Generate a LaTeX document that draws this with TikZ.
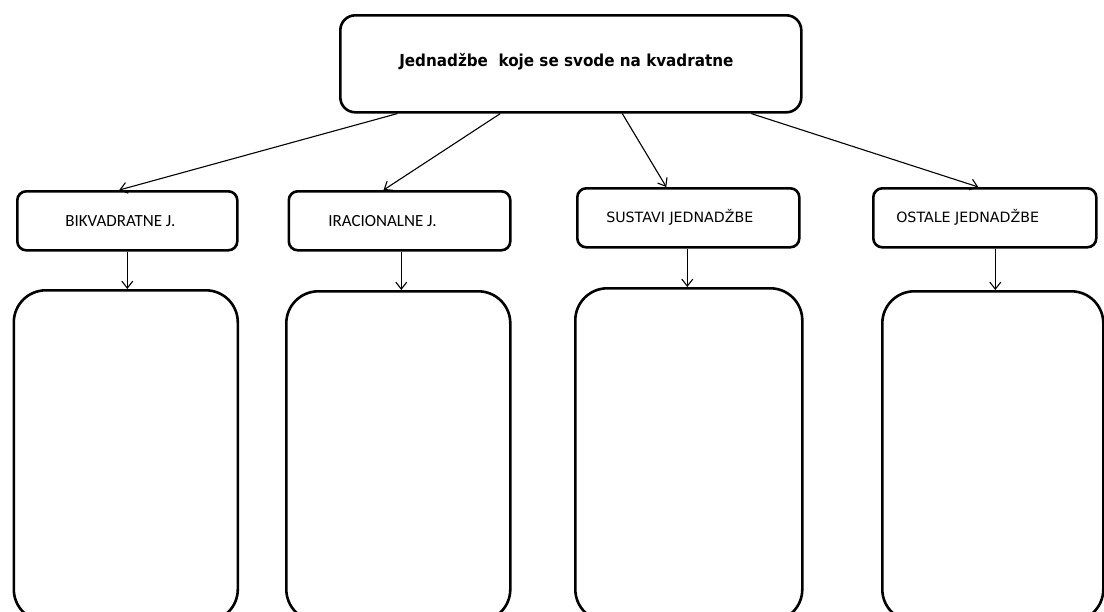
\documentclass[tikz,border=0pt]{standalone}
\usepackage{fontspec}
\newfontfamily\dvs{DejaVu Sans}
\newfontfamily\dvsb[FakeStretch=0.92]{DejaVu Sans Bold}
\newfontfamily\carl{Carlito}
\usetikzlibrary{arrows.meta}
\begin{document}
\begin{tikzpicture}[x=1pt,y=-1pt,
  topbox/.style={draw, line width=2.6pt, rounded corners=15pt, anchor=north west,
    minimum height=97pt, inner xsep=59pt,
    text height=12.5pt, text depth=7.5pt,
    font=\dvsb\fontsize{16.5}{19}\selectfont},
  midbox/.style={draw, line width=2.6pt, rounded corners=9pt, anchor=north west,
    minimum height=59pt, inner ysep=0pt},
  carlfont/.style={font=\carl\fontsize{17}{20}\selectfont},
  dvsfont/.style={font=\dvs\fontsize{14.2}{17}\selectfont},
  bigbox/.style={draw, line width=2.6pt, rounded corners=32pt, anchor=north west, inner sep=0pt},
  arr/.style={line width=1.1pt, -{Straight Barb[length=7pt,width=11pt]}},
]
\clip (0,0) rectangle (1104,611);

\node[topbox] (top) at (339,14) {\makebox[343pt][l]{Jednadžbe\ \ koje se svode na kvadratne}};

\node[midbox, carlfont, inner xsep=48pt] (b1) at (16,190) {\makebox[124pt][l]{BIKVADRATNE J.}};
\node[midbox, carlfont, inner xsep=39.5pt] (b2) at (287.5,190) {\makebox[142.5pt][l]{IRACIONALNE J.}};
\node[midbox, dvsfont, inner xsep=29pt] (b3) at (576,187) {\makebox[164pt][l]{SUSTAVI JEDNADŽBE}};
\node[midbox, dvsfont, inner xsep=23pt] (b4) at (872,187) {\makebox[177pt][l]{OSTALE JEDNADŽBE}};

\node[bigbox, minimum width=224pt, minimum height=331pt] (c1) at (12.5,289) {};
\node[bigbox, minimum width=224pt, minimum height=330pt] (c2) at (285,290) {};
\node[bigbox, minimum width=227pt, minimum height=333pt] (c3) at (574,287) {};
\node[bigbox, minimum width=221pt, minimum height=330pt] (c4) at (881,290) {};

\draw[arr] ([xshift=-173.5pt]top.south) -- ([xshift=-8pt]b1.north);
\draw[arr] ([xshift=-70.5pt]top.south) -- ([xshift=-16pt]b2.north);
\draw[arr] ([xshift=51.5pt]top.south) -- ([xshift=-22pt]b3.north);
\draw[arr] ([xshift=180.5pt]top.south) -- ([xshift=-6.5pt]b4.north);

\draw[arr] (b1.south) -- ([xshift=1.5pt]c1.north);
\draw[arr] ([xshift=1.75pt]b2.south) -- ([xshift=3pt]c2.north);
\draw[arr] ([xshift=-1pt]b3.south) -- ([xshift=-1.5pt]c3.north);
\draw[arr] ([xshift=10.5pt]b4.south) -- ([xshift=2.5pt]c4.north);
\end{tikzpicture}
\end{document}
